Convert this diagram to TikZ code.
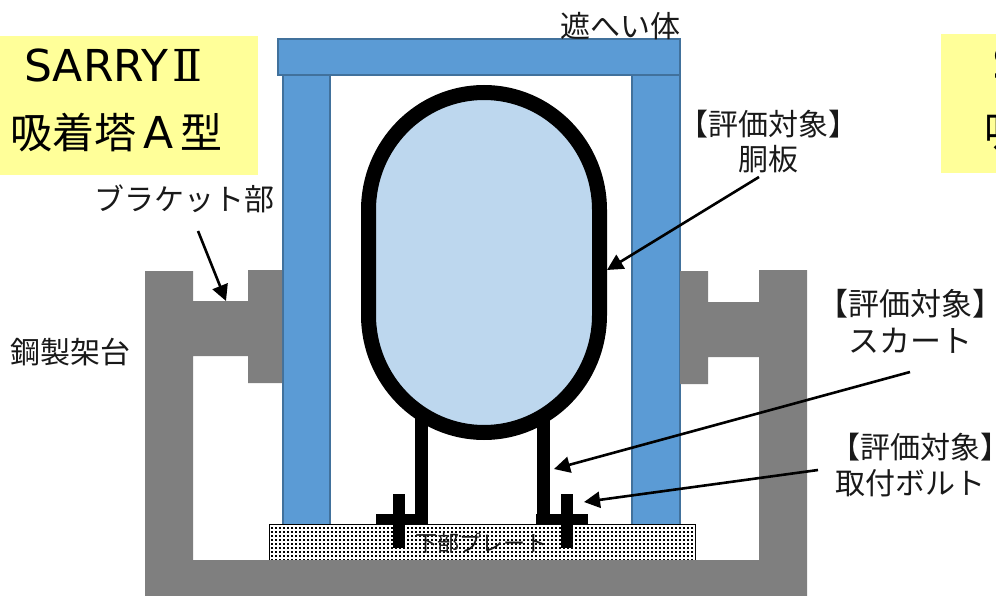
\documentclass[tikz,border=0pt]{standalone}
\usepackage{fontspec}
\setmainfont{Noto Sans CJK JP}
\newfontfamily\latinface{DejaVu Sans}
\newfontfamily\numeralface{DejaVu Serif}
\usetikzlibrary{arrows.meta}
\definecolor{blueF}{HTML}{5B9BD5}
\definecolor{blueE}{HTML}{41719C}
\definecolor{vessel}{HTML}{BDD7EE}
\definecolor{steel}{HTML}{7F7F7F}
\definecolor{note}{HTML}{FFFF99}
\newcommand{\evalmark}{\kern-.5em【評価対象】\kern-.5em}
\tikzset{
  lab/.style={inner sep=0pt,font=\fontsize{30}{36}\selectfont,align=center,text=black!90},
  big/.style={inner sep=0pt,font=\fontsize{42}{70}\selectfont,align=center,anchor=base west},
  bigl/.style={big,font=\fontsize{44}{70}\selectfont\latinface},
  col/.style={fill=blueF,draw=blueE,line width=2pt},
  leader/.style={draw=black,line width=2.6pt,-{Triangle[length=16pt,width=16pt]}},
}
\begin{document}
\begin{tikzpicture}[x=1pt,y=-1pt]
\useasboundingbox (0,0) rectangle (996,596);
\clip (0,0) rectangle (996,596);
% notes
\fill[note] (0,36) rectangle (258,175);
\fill[note] (941,34) rectangle (996,173);
\node[bigl] (t1) at (24,82) {SARRY};
\node[big,font=\fontsize{44}{70}\selectfont\numeralface] (t2) at (172,82) {Ⅱ};
\node[big] (t3) at (10,149) {吸着塔};
\node[bigl] (t4) at (143,149) {A};
\node[big] (t5) at (180,149) {型};
\node[bigl] (t6) at (992,80) {S};
\node[big] (t7) at (984,147) {吸};
% blue frame
\draw[col] (282.5,60) rectangle (330,525);
\draw[col] (632,60) rectangle (680,525);
\draw[col] (277.5,39.5) rectangle (680,75.5);
% steel frame
\fill[steel] (145,596) -- (145,271) -- (193,271) -- (193,301) -- (248,301) -- (248,270) -- (282,270)
  -- (282,383) -- (248,383) -- (248,356) -- (193,356) -- (193,560) -- (759,560) -- (759,357)
  -- (708,357) -- (708,384) -- (680,384) -- (680,271) -- (708,271) -- (708,302) -- (759,302)
  -- (759,270) -- (807,270) -- (807,596) -- cycle;
% lower plate
\fill[white] (269,524.5) rectangle (695,560);
\foreach \i in {0,...,105}{
  \foreach \j in {0,...,8}{
    \fill[black] ({271+4*\i},{527+4*\j}) rectangle +(2,2);
  }
}
\draw[black,line width=0.8pt] (269,560) -- (269,524.5) -- (695,524.5) -- (695,560);
% skirt, bolts
\fill[black] (415,415) rectangle (428,525);
\fill[black] (537,415) rectangle (550,525);
\fill[black] (376,514) rectangle (428,525);
\fill[black] (536,514) rectangle (588,525);
\fill[black] (393,494) rectangle (405,548);
\fill[black] (561,494) rectangle (573,548);
% vessel
\filldraw[fill=vessel,draw=black,line width=15pt]
  (368.5,210) arc[start angle=180,end angle=360,x radius=115.5,y radius=117.5]
  -- (599.5,315) arc[start angle=0,end angle=180,x radius=115.5,y radius=117.5] -- cycle;
\fill[steel] (145,560) rectangle (807,596);
% labels
\node[lab] (shield) at (620,26) {遮へい体};
\node[lab] (bracket) at (184.5,199) {ブラケット部};
\node[lab] (stand) at (70.5,352) {鋼製架台};
\node[lab,font=\fontsize{30}{35}\selectfont] (shell) at (768,141.5) {\evalmark\\胴板};
\node[lab,font=\fontsize{31}{37}\selectfont] (skirt) at (910,321) {\evalmark\\スカート};
\node[lab] (bolta) at (920,447) {\evalmark};
\node[lab] (boltb) at (910.5,483) {取付ボルト};
\node[lab,font=\fontsize{22}{26}\selectfont] (plate) at (481,543) {下部プレート};
% leaders
\coordinate (a1) at (198,231); \coordinate (b1) at (226,301);
\coordinate (a2) at (759,177); \coordinate (b2) at (607,270);
\coordinate (a3) at (910,372); \coordinate (b3) at (554,469);
\coordinate (a4) at (818,470); \coordinate (b4) at (584,502);
\draw[leader] (a1) -- (b1);
\draw[leader] (a2) -- (b2);
\draw[leader] (a3) -- (b3);
\draw[leader] (a4) -- (b4);
\end{tikzpicture}
\end{document}
